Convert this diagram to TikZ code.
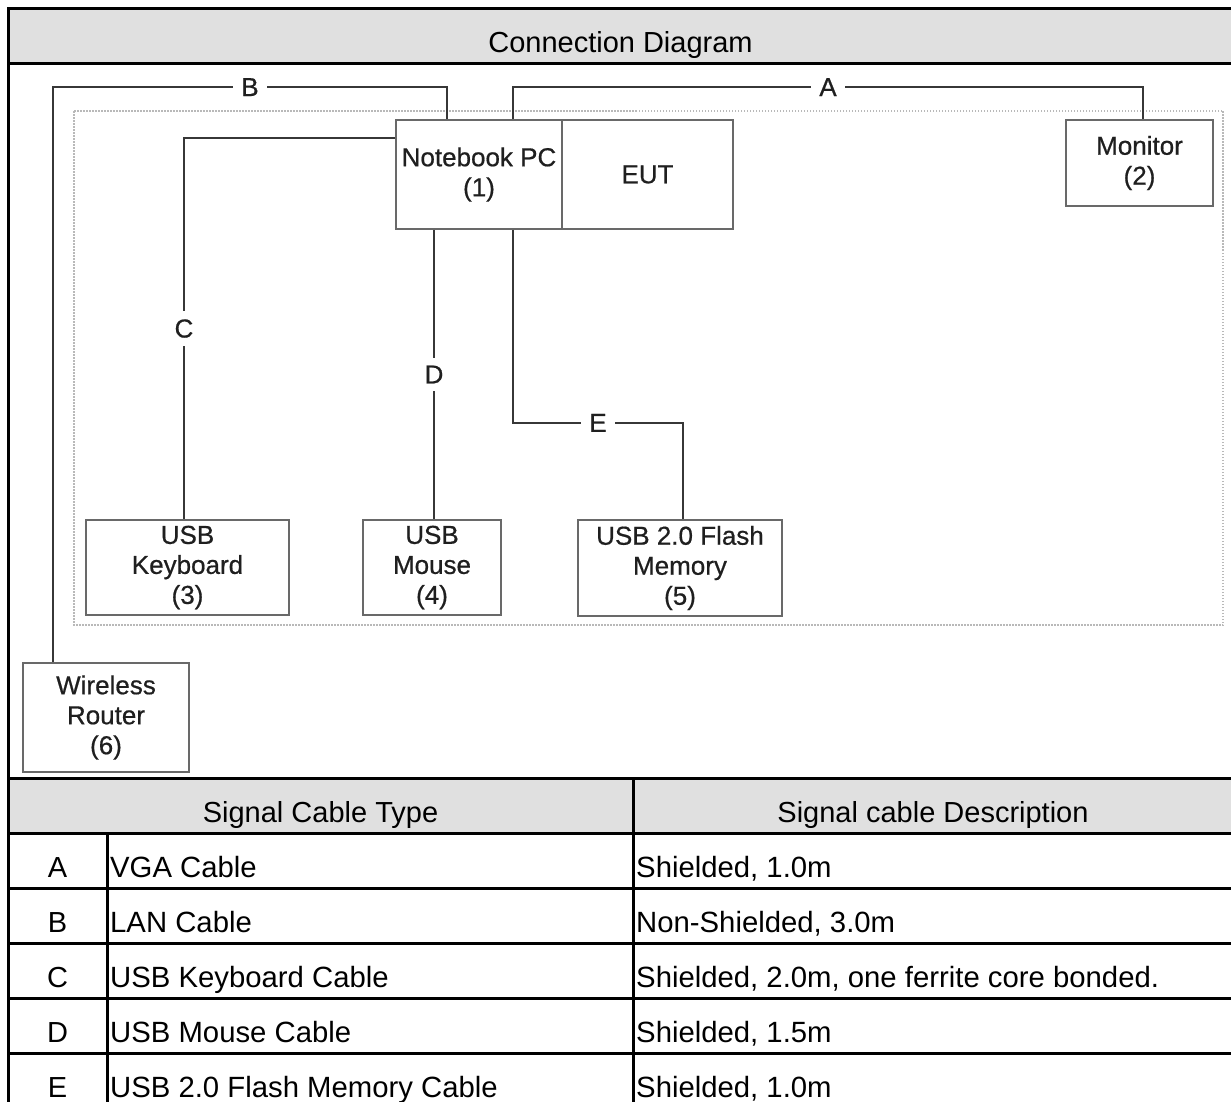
\documentclass[tikz,border=0pt]{standalone}
\usepackage{fontspec}
\setmainfont{Liberation Sans}
\newfontfamily\boxfont{Liberation Sans}[FakeBold=0.6]
\begin{document}
\definecolor{hdr}{RGB}{224,224,224}
\definecolor{boxc}{RGB}{105,105,105}
\definecolor{wire}{RGB}{55,55,55}
\definecolor{dotc}{RGB}{185,185,185}
\begin{tikzpicture}[x=1pt,y=-1pt,
  tline/.style={line width=3pt,black},
  dev/.style={draw=boxc,line width=1.8pt,fill=white,align=center,inner sep=0pt,
    font=\boxfont\fontsize{26}{30}\selectfont,text=black!88},
  cable/.style={draw=wire,line width=1.8pt},
  clabel/.style={fill=white,inner xsep=8pt,inner ysep=8pt,
    font=\boxfont\fontsize{26}{30}\selectfont,text=black!88},
  ttext/.style={anchor=base,font=\fontsize{29}{34}\selectfont,inner sep=0pt},
  ltext/.style={anchor=base west,font=\fontsize{29.3}{34}\selectfont,inner sep=0pt},
]
\useasboundingbox (0,0) rectangle (1231,1101);
% header fills
\fill[hdr] (8,8) rectangle (1240,63);
\fill[hdr] (8,778) rectangle (1240,833);
% table / frame lines
\draw[tline] (8,1110) -- (8,8) -- (1240,8);
\draw[tline] (8,63) -- (1240,63);
\draw[tline] (8,778) -- (1240,778);
\draw[tline] (8,833) -- (1240,833);
\draw[tline] (8,888) -- (1240,888);
\draw[tline] (8,943) -- (1240,943);
\draw[tline] (8,998) -- (1240,998);
\draw[tline] (8,1053) -- (1240,1053);
\draw[tline] (633,778) -- (633,1110);
\draw[tline] (107,833) -- (107,1110);
% texts
\node[ttext] (title) at (620.5,52) {Connection Diagram};
\node[ttext] (h1) at (320.5,822) {Signal Cable Type};
\node[ttext] (h2) at (933,822) {Signal cable Description};
\node[ttext] (la) at (57.5,877) {A};
\node[ttext] (lb) at (57.5,932) {B};
\node[ttext] (lc) at (57.5,987) {C};
\node[ttext] (ld) at (57.5,1042) {D};
\node[ttext] (le) at (57.5,1097) {E};
\node[ltext] (ta) at (110,877) {VGA Cable};
\node[ltext] (tb) at (110,932) {LAN Cable};
\node[ltext] (tc) at (110,987) {USB Keyboard Cable};
\node[ltext] (td) at (110,1042) {USB Mouse Cable};
\node[ltext] (te) at (110,1097) {USB 2.0 Flash Memory Cable};
\node[ltext] (da) at (636,877) {Shielded, 1.0m};
\node[ltext] (db) at (636,932) {Non-Shielded, 3.0m};
\node[ltext] (dc) at (636,987) {Shielded, 2.0m, one ferrite core bonded.};
\node[ltext] (dd) at (636,1042) {Shielded, 1.5m};
\node[ltext] (de) at (636,1097) {Shielded, 1.0m};
% dotted test table area
\draw[dotc,line width=2pt,dash pattern=on 1.5pt off 1.5pt] (74,111) rectangle (1223,625);
% devices
\node[dev,minimum width=166pt,minimum height=109pt] (nb) at (479,174.5) {Notebook PC\\(1)};
\node[dev,minimum width=171pt,minimum height=109pt] (eut) at (647.5,174.5) {EUT};
\node[dev,minimum width=147pt,minimum height=86pt] (mon) at (1139.5,163) {Monitor\\(2)};
\node[dev,minimum width=203pt,minimum height=95pt] (kb) at (187.5,567.5) {USB\\Keyboard\\(3)};
\node[dev,minimum width=138pt,minimum height=95pt] (ms) at (432,567.5) {USB\\Mouse\\(4)};
\node[dev,minimum width=204pt,minimum height=96pt] (fl) at (680,568) {USB 2.0 Flash\\Memory\\(5)};
\node[dev,minimum width=166pt,minimum height=109pt] (rt) at (106,717.5) {Wireless\\Router\\(6)};
% cables
\draw[cable] ([xshift=34pt]nb.north) -- ++(0,-32) -| node[clabel,pos=0.25] {A} ([xshift=3.5pt]mon.north);
\draw[cable] ([xshift=-32pt]nb.north) -- ++(0,-32) -| node[clabel,pos=0.25] {B} ([xshift=-53pt]rt.north);
\draw[cable] ([yshift=36.5pt]nb.west) -| node[clabel,pos=0.75] {C} ([xshift=-3.5pt]kb.north);
\draw[cable] ([xshift=-45pt]nb.south) -- node[clabel] {D} ([xshift=2pt]ms.north);
\draw[cable] ([xshift=34pt]nb.south) -- ++(0,193) -| node[clabel,pos=0.25] {E} ([xshift=3pt]fl.north);
\end{tikzpicture}
\end{document}
